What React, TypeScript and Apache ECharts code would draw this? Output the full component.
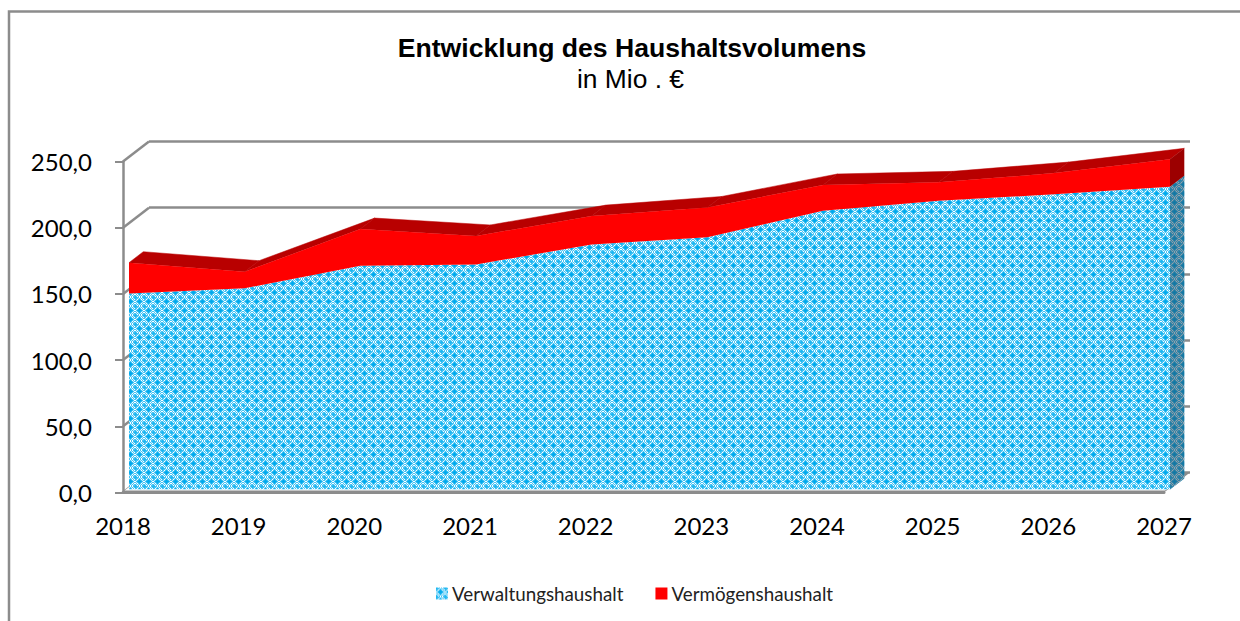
import React, { useEffect, useRef } from "react";
import * as echarts from "echarts";

const categories = ["2018","2019","2020","2021","2022","2023","2024","2025","2026","2027"];
const verwaltung = [148,152,169,170,185,190.5,210.5,218,223,228.7];
const vermoegen = [23.3,12.5,27.7,21.5,21.5,22.5,19.5,14,16,20.7];
const yTicks = [0,50,100,150,200,250];
const totals = verwaltung.map((v,i)=>v+vermoegen[i]);
const DX = 14.3, DY = -11;

function makeTile(){
  const N = 9;
  const c = document.createElement("canvas");
  c.width = N; c.height = N;
  const g = c.getContext("2d")!;
  const wrap = (d:number)=>Math.min(Math.abs(d),N-Math.abs(d));
  for(let y=0;y<N;y++) for(let x=0;x<N;x++){
    const d1 = wrap(x-4)+wrap(y-4);
    const d2 = wrap(x)+wrap(y);
    let col = (x+y)%2===0 ? (x%2===0 ? "#ffffff" : "#c4ecfb") : "#45c3f4";
    if(d1<=2) col = d1<=1 ? "#00A8EC" : "#12b2f0";
    else if(d2<=1) col = "#1db6f1";
    else if(d2===2) col = "#45c3f4";
    g.fillStyle = col;
    g.fillRect(x,y,1,1);
  }
  return c.toDataURL();
}
function pat(src:string){ return {image:src,repeat:"repeat",imageWidth:9,imageHeight:9} as any; }

export default function App(){
  const ref = useRef<HTMLDivElement>(null);
  useEffect(()=>{
    const chart = echarts.init(ref.current!, undefined, {renderer:"svg"});
    const tile = makeTile();
    const blue = pat(tile);
    const font = "Lato";
    const gray = "#8c8c8c";
    const ax = (gridIndex:number, extra:any={})=>({type:"category",gridIndex,data:categories,boundaryGap:false,axisLine:{show:false},axisTick:{show:false},axisLabel:{show:false},splitLine:{show:false},...extra});
    const ay = (gridIndex:number, extra:any={})=>({type:"value",gridIndex,min:0,max:250,interval:50,axisLine:{show:false},axisTick:{show:false},axisLabel:{show:false},splitLine:{show:false},...extra});
    chart.setOption({
      animation:false,
      backgroundColor:"#ffffff",
      title:[
        {text:"Entwicklung des Haushaltsvolumens",left:627,top:29.7,textAlign:"center",textStyle:{fontFamily:"Liberation Sans",fontSize:26.6,fontWeight:"bold",color:"#000"}},
        {text:"in Mio . €",left:625.5,top:61,textAlign:"center",textStyle:{fontFamily:"Liberation Sans",fontSize:26.4,fontWeight:"normal",color:"#000"}},
      ],
      grid:[
        {left:123,width:1041,top:161.5,height:331},
        {left:129,width:1041,top:158.5,height:331},
        {left:149,width:1041,top:141.5,height:331},
      ],
      xAxis:[
        ax(0,{axisLine:{show:true,lineStyle:{color:gray,width:3}},axisLabel:{show:true,fontFamily:font,fontSize:24,color:"#000",margin:21,interval:0}}),
        ax(1),
        ax(2),
      ],
      yAxis:[
        ay(0,{axisLine:{show:true,lineStyle:{color:gray,width:2.5}},axisTick:{show:true,length:8,lineStyle:{color:gray,width:2}},
          axisLabel:{show:true,fontFamily:font,fontSize:24,color:"#000",margin:31,formatter:(v:number)=>v.toFixed(1).replace(".",",")}}),
        ay(1),
        ay(2,{splitLine:{show:true,lineStyle:{color:gray,width:2.5}}}),
      ],
      legend:{
        left:431,top:579,icon:"rect",itemWidth:12,itemHeight:12,itemGap:32,
        textStyle:{fontFamily:font,fontSize:18.8,color:"#222",padding:[0,0,0,-1]},
        data:[{name:"Verwaltungshaushalt",itemStyle:{color:blue}},{name:"Vermögenshaushalt",itemStyle:{color:"#ff0000"}}],
      },
      series:[
        {type:"custom",name:"floor",xAxisIndex:0,yAxisIndex:0,z:1,silent:true,data:[[0,0]],
          renderItem:(_p:any,api:any)=>{
            const a = api.coord([categories[0],0]), b = api.coord([categories[categories.length-1],0]);
            return {type:"polygon",shape:{points:[a,[a[0]+26,a[1]-20],[b[0]+26,b[1]-20],b]},style:{fill:gray}};
          }},
        {type:"custom",name:"walls",xAxisIndex:0,yAxisIndex:0,z:2,silent:true,data:yTicks.map(t=>[0,t]),
          renderItem:(_p:any,api:any)=>{
            const a = api.coord([categories[0],api.value(1)]);
            return {type:"line",shape:{x1:a[0],y1:a[1],x2:a[0]+26,y2:a[1]-20},style:{stroke:gray,lineWidth:2.5}};
          }},
        {type:"custom",name:"wallfill",xAxisIndex:0,yAxisIndex:0,z:3,silent:true,data:[[0,0]],
          renderItem:(_p:any,api:any)=>{
            const a = api.coord([categories[0],0]);
            const b = api.coord([categories[categories.length-1],0]);
            return {type:"polygon",shape:{points:[[a[0]+1.5,a[1]-2],[a[0]+8,a[1]-7],[b[0]+10,b[1]-7],[b[0]+1,b[1]-2]]},style:{fill:"#fff"}};
          }},
        {type:"custom",name:"top",xAxisIndex:1,yAxisIndex:1,z:4,silent:true,data:totals.map((t,i)=>[i,t]),
          renderItem:(p:any,api:any)=>{
            const i = p.dataIndex;
            if(i>=totals.length-1) return {type:"group",children:[]};
            const a = api.coord([i,totals[i]]), b = api.coord([i+1,totals[i+1]]);
            return {type:"polygon",shape:{points:[a,b,[b[0]+DX,b[1]+DY],[a[0]+DX,a[1]+DY]]},style:{fill:"#b80000",stroke:"#b80000",lineWidth:0.5}};
          }},
        {type:"custom",name:"side",xAxisIndex:1,yAxisIndex:1,z:4,silent:true,data:[[9,0]],
          renderItem:(_p:any,api:any)=>{
            const n = categories.length-1;
            const z = api.coord([n,0]), v = api.coord([n,verwaltung[n]]), t = api.coord([n,totals[n]]);
            const o = (q:number[])=>[q[0]+DX,q[1]+DY];
            return {type:"group",children:[
              {type:"polygon",shape:{points:[z,v,o(v),o(z)]},style:{fill:blue}},
              {type:"polygon",shape:{points:[z,v,o(v),o(z)]},style:{fill:"rgba(40,70,90,0.5)"}},
              {type:"polygon",shape:{points:[v,t,o(t),o(v)]},style:{fill:"#9c0000"}},
            ]};
          }},
        {type:"line",name:"Verwaltungshaushalt",xAxisIndex:1,yAxisIndex:1,stack:"h",z:5,data:verwaltung,showSymbol:false,symbol:"none",
          lineStyle:{width:0},areaStyle:{color:blue,opacity:1},itemStyle:{color:"#00B0F0"}},
        {type:"line",name:"Vermögenshaushalt",xAxisIndex:1,yAxisIndex:1,stack:"h",z:5,data:vermoegen,showSymbol:false,symbol:"none",
          lineStyle:{width:0},areaStyle:{color:"#ff0000",opacity:1},itemStyle:{color:"#ff0000"}},
      ],
      graphic:[
        {type:"polyline",z:100,shape:{points:[[9,621],[9,11.5],[1240,11.5]]},style:{stroke:gray,lineWidth:2.5,fill:"none"}},
      ],
    });
    return ()=>chart.dispose();
  },[]);
  return <div ref={ref} style={{position:"absolute",left:0,top:0,width:1240,height:621}}/>;
}
